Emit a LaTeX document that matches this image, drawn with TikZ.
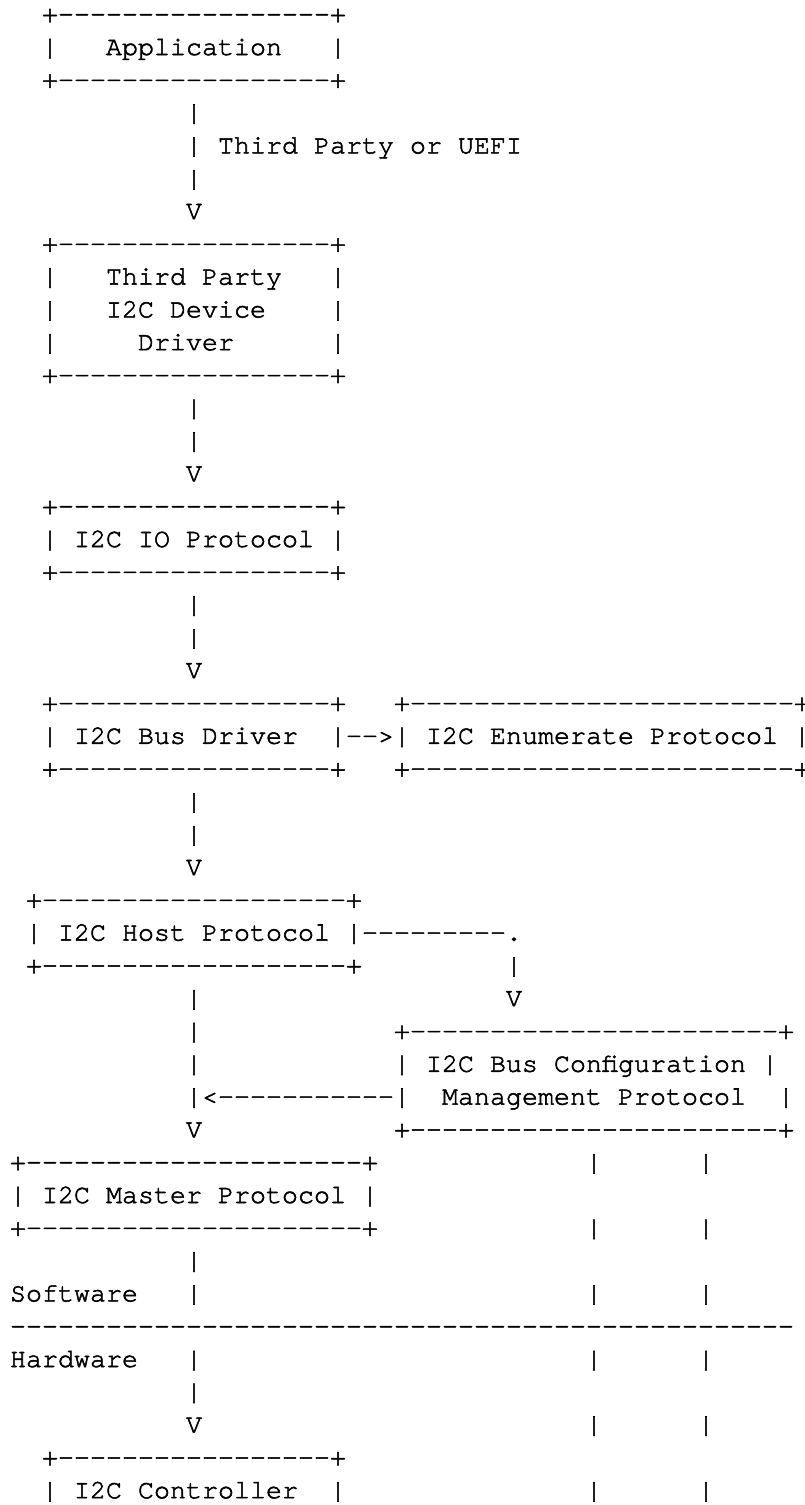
\documentclass[tikz,border=0pt]{standalone}
\usepackage{fontspec}
\setmonofont{TeX Gyre Cursor}[FakeBold=2]
\tikzset{
  ascii/.style={anchor=base west,inner sep=0pt,outer sep=0pt,
    font=\ttfamily\fontsize{13.333pt}{16pt}\selectfont}
}
% one row of text at column #2, line #3
\newcommand{\putrow}[4]{\node[ascii] (#1) at ({10+16*#2},{22.2+32.8*#3}) {#4};}
\newcommand{\dashes}[1]{\foreach\k in {1,...,#1}{-}}

\begin{document}
\begin{tikzpicture}[x=0.5pt,y=-0.5pt]
  \fill[white] (0,0) rectangle (804,1505);
  \useasboundingbox (0,0) rectangle (804,1505);
  % Application
  \putrow{app-top}{2}{0}{+\dashes{17}+}
  \putrow{app}{2}{1}{|~~~Application~~~|}
  \putrow{app-bot}{2}{2}{+\dashes{17}+}
  \putrow{uefi-1}{11}{3}{|}
  \putrow{uefi-2}{11}{4}{|~Third Party or UEFI}
  \putrow{uefi-3}{11}{5}{|}
  \putrow{uefi-tip}{11}{6}{V}
  % third party driver
  \putrow{tpd-top}{2}{7}{+\dashes{17}+}
  \putrow{tpd-1}{2}{8}{|~~~Third Party~~~|}
  \putrow{tpd-2}{2}{9}{|~~~I2C Device~~~~|}
  \putrow{tpd-3}{2}{10}{|~~~~~Driver~~~~~~|}
  \putrow{tpd-bot}{2}{11}{+\dashes{17}+}
  \putrow{tpd-a1}{11}{12}{|}
  \putrow{tpd-a2}{11}{13}{|}
  \putrow{tpd-tip}{11}{14}{V}
  % io protocol
  \putrow{io-top}{2}{15}{+\dashes{17}+}
  \putrow{io}{2}{16}{|~I2C IO Protocol~|}
  \putrow{io-bot}{2}{17}{+\dashes{17}+}
  \putrow{io-a1}{11}{18}{|}
  \putrow{io-a2}{11}{19}{|}
  \putrow{io-tip}{11}{20}{V}
  % bus driver and enumerate
  \putrow{bus-top}{2}{21}{+\dashes{17}+}
  \putrow{bus}{2}{22}{|~I2C Bus Driver~~|}
  \putrow{bus-bot}{2}{23}{+\dashes{17}+}
  \putrow{bus-enum}{21}{22}{-{}->}
  \putrow{enum-top}{24}{21}{+\dashes{24}+}
  \putrow{enum}{24}{22}{|~I2C Enumerate Protocol~|}
  \putrow{enum-bot}{24}{23}{+\dashes{24}+}
  \putrow{bus-a1}{11}{24}{|}
  \putrow{bus-a2}{11}{25}{|}
  \putrow{bus-tip}{11}{26}{V}
  % host protocol
  \putrow{host-top}{1}{27}{+\dashes{19}+}
  \putrow{host}{1}{28}{|~I2C Host Protocol~|}
  \putrow{host-bot}{1}{29}{+\dashes{19}+}
  \putrow{host-cfg}{22}{28}{\dashes{9}.}
  \putrow{host-cfg-1}{31}{29}{|}
  \putrow{host-cfg-tip}{31}{30}{V}
  \foreach \l in {30,31,32}{\putrow{host-a\l}{11}{\l}{|}}
  % bus configuration management
  \putrow{cfg-top}{24}{31}{+\dashes{23}+}
  \putrow{cfg-1}{24}{32}{|~I2C Bus Configuration~|}
  \putrow{cfg-2}{24}{33}{|~~Management Protocol~~|}
  \putrow{cfg-bot}{24}{34}{+\dashes{23}+}
  \putrow{cfg-host}{11}{33}{|<\dashes{11}}
  \putrow{host-tip}{11}{34}{V}
  % master protocol
  \putrow{master-top}{0}{35}{+\dashes{21}+}
  \putrow{master}{0}{36}{|~I2C Master Protocol~|}
  \putrow{master-bot}{0}{37}{+\dashes{21}+}
  \putrow{master-a1}{11}{38}{|}
  \putrow{master-a2}{11}{39}{|}
  \putrow{master-a3}{11}{41}{|}
  \putrow{master-a4}{11}{42}{|}
  \putrow{master-tip}{11}{43}{V}
  % software / hardware split
  \putrow{sw}{0}{39}{Software}
  \putrow{split}{0}{40}{\dashes{49}}
  \putrow{hw}{0}{41}{Hardware}
  % controller
  \putrow{ctrl-top}{2}{44}{+\dashes{17}+}
  \putrow{ctrl}{2}{45}{|~I2C Controller~~|}
  % lines down from the configuration box
  \foreach \l in {35,37,...,45}{
    \putrow{cfg-l\l}{36}{\l}{|}
    \putrow{cfg-r\l}{43}{\l}{|}
  }
\end{tikzpicture}
\end{document}
